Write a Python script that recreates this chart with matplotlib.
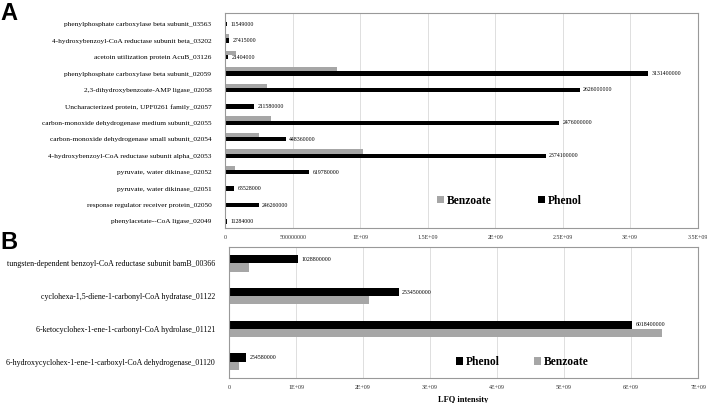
import numpy as np
import matplotlib.pyplot as plt

plt.rcParams['font.family'] = ['Liberation Serif', 'DejaVu Serif']

# ---- panel A data (top to bottom)
cats_a = ['phenylphosphate carboxylase beta subunit_03563',
          '4-hydroxybenzoyl-CoA reductase subunit beta_03202',
          'acetoin utilization protein AcuB_03126',
          'phenylphosphate carboxylase beta subunit_02059',
          '2,3-dihydroxybenzoate-AMP ligase_02058',
          'Uncharacterized protein, UPF0261 family_02057',
          'carbon-monoxide dehydrogenase medium subunit_02055',
          'carbon-monoxide dehydrogenase small subunit_02054',
          '4-hydroxybenzoyl-CoA reductase subunit alpha_02053',
          'pyruvate, water dikinase_02052',
          'pyruvate, water dikinase_02051',
          'response regulator receiver protein_02050',
          'phenylacetate--CoA ligase_02049']
phenol_a = [11549000, 27415000, 21404000, 3131400000, 2626000000, 211580000,
            2476000000, 448360000, 2374100000, 619780000, 63528000, 246260000, 11284000]
benzoate_a = [0, 30000000, 80000000, 830000000, 310000000, 0,
              340000000, 250000000, 1020000000, 70000000, 0, 0, 0]
ticks_a = [0, 5e8, 1e9, 1.5e9, 2e9, 2.5e9, 3e9, 3.5e9]
ticklabels_a = ['0', '500000000', '1E+09', '1.5E+09', '2E+09', '2.5E+09', '3E+09', '3.5E+09']

# ---- panel B data (top to bottom)
cats_b = ['tungsten-dependent benzoyl-CoA reductase subunit bamB_00366',
          'cyclohexa-1,5-diene-1-carbonyl-CoA hydratase_01122',
          '6-ketocyclohex-1-ene-1-carbonyl-CoA hydrolase_01121',
          '6-hydroxycyclohex-1-ene-1-carboxyl-CoA dehydrogenase_01120']
phenol_b = [1028800000, 2534500000, 6018400000, 254580000]
benzoate_b = [300000000, 2090000000, 6460000000, 150000000]
ticks_b = [0, 1e9, 2e9, 3e9, 4e9, 5e9, 6e9, 7e9]
ticklabels_b = ['0', '1E+09', '2E+09', '3E+09', '4E+09', '5E+09', '6E+09', '7E+09']

GRAY = '#a6a6a6'
fig = plt.figure(figsize=(7.07, 4.03), dpi=100)

def style(ax, ticks, labels, ysize):
    ax.set_xticks(ticks)
    ax.set_xticklabels(labels, fontsize=4.3, color='#333333')
    ax.tick_params(length=0, pad=5)
    ax.tick_params(axis='y', labelsize=ysize, pad=10)
    ax.grid(axis='x', color='#d9d9d9', lw=0.6)
    ax.set_axisbelow(True)
    for s in ax.spines.values():
        s.set_color('#999999')
        s.set_linewidth(0.8)

# panel A
axA = fig.add_axes([0.3187, 0.4342, 0.668, 0.5335])
y = np.arange(len(cats_a))
h = 0.26
axA.barh(y - h, benzoate_a, h, color=GRAY, label='Benzoate')
axA.barh(y, phenol_a, h, color='black', label='Phenol')
for yi, v in zip(y, phenol_a):
    axA.text(v + 2.5e7, yi, str(v), fontsize=4.2, va='center')
axA.set_yticks(y)
axA.set_yticklabels(cats_a)
axA.set_xlim(0, 3.5e9)
axA.set_ylim(12.4, -0.68)
style(axA, ticks_a, ticklabels_a, 5.3)
axA.legend(loc='center', bbox_to_anchor=(0.602, 0.127), ncol=2, frameon=False,
           handlelength=0.6, handleheight=0.6, handletextpad=0.25, columnspacing=4.0,
           prop={'weight': 'bold', 'size': 8.3})

# panel B
axB = fig.add_axes([0.3239, 0.062, 0.6634, 0.325])
y = np.arange(len(cats_b))
h = 0.25
axB.barh(y - h / 2, phenol_b, h, color='black', label='Phenol')
axB.barh(y + h / 2, benzoate_b, h, color=GRAY, label='Benzoate')
for yi, v in zip(y, phenol_b):
    axB.text(v + 5e7, yi - h / 2, str(v), fontsize=4.2, va='center')
axB.set_yticks(y)
axB.set_yticklabels(cats_b)
axB.set_xlim(0, 7e9)
axB.set_ylim(3.5, -0.5)
style(axB, ticks_b, ticklabels_b, 5.7)
axB.set_xlabel('LFQ intensity', fontsize=6, fontweight='bold', labelpad=4)
axB.legend(loc='center', bbox_to_anchor=(0.625, 0.122), ncol=2, frameon=False,
           handlelength=0.6, handleheight=0.6, handletextpad=0.25, columnspacing=3.0,
           prop={'weight': 'bold', 'size': 8.3})

fig.text(0.0, 0.995, 'A', fontsize=17, fontweight='bold', family='Liberation Sans', va='top')
fig.text(0.0, 0.428, 'B', fontsize=17, fontweight='bold', family='Liberation Sans', va='top')

fig.savefig('out.png', dpi=100)
